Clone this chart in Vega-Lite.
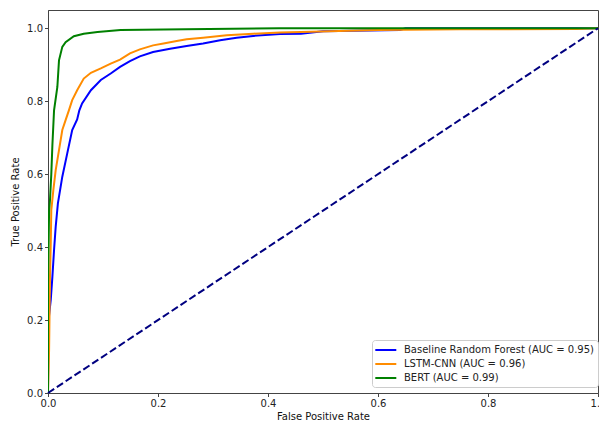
{
  "$schema": "https://vega.github.io/schema/vega-lite/v6.json",
  "width": 550,
  "height": 383,
  "autosize": "none",
  "padding": {"left": 48, "top": 10, "right": 1, "bottom": 29},
  "background": "white",
  "config": {
    "font": "DejaVu Sans",
    "view": {"stroke": "#444", "strokeWidth": 1},
    "axis": {
      "grid": false,
      "domainColor": "#444",
      "tickColor": "#444",
      "tickSize": 3.5,
      "labelFontSize": 10,
      "labelColor": "#222",
      "titleFontSize": 10,
      "titleFontWeight": "normal",
      "titleColor": "#111",
      "labelPadding": 2,
      "labelFlush": false
    }
  },
  "datasets": {
    "roc": [
      {"model": "Baseline Random Forest (AUC = 0.95)", "i": 0, "fpr": 0.0, "tpr": 0.0},
      {"model": "Baseline Random Forest (AUC = 0.95)", "i": 1, "fpr": 0.001, "tpr": 0.2},
      {"model": "Baseline Random Forest (AUC = 0.95)", "i": 2, "fpr": 0.005, "tpr": 0.255},
      {"model": "Baseline Random Forest (AUC = 0.95)", "i": 3, "fpr": 0.008, "tpr": 0.319},
      {"model": "Baseline Random Forest (AUC = 0.95)", "i": 4, "fpr": 0.011, "tpr": 0.392},
      {"model": "Baseline Random Forest (AUC = 0.95)", "i": 5, "fpr": 0.014, "tpr": 0.456},
      {"model": "Baseline Random Forest (AUC = 0.95)", "i": 6, "fpr": 0.018, "tpr": 0.52},
      {"model": "Baseline Random Forest (AUC = 0.95)", "i": 7, "fpr": 0.026, "tpr": 0.593},
      {"model": "Baseline Random Forest (AUC = 0.95)", "i": 8, "fpr": 0.035, "tpr": 0.657},
      {"model": "Baseline Random Forest (AUC = 0.95)", "i": 9, "fpr": 0.044, "tpr": 0.721},
      {"model": "Baseline Random Forest (AUC = 0.95)", "i": 10, "fpr": 0.053, "tpr": 0.75},
      {"model": "Baseline Random Forest (AUC = 0.95)", "i": 11, "fpr": 0.057, "tpr": 0.775},
      {"model": "Baseline Random Forest (AUC = 0.95)", "i": 12, "fpr": 0.062, "tpr": 0.794},
      {"model": "Baseline Random Forest (AUC = 0.95)", "i": 13, "fpr": 0.078, "tpr": 0.83},
      {"model": "Baseline Random Forest (AUC = 0.95)", "i": 14, "fpr": 0.096, "tpr": 0.858},
      {"model": "Baseline Random Forest (AUC = 0.95)", "i": 15, "fpr": 0.114, "tpr": 0.876},
      {"model": "Baseline Random Forest (AUC = 0.95)", "i": 16, "fpr": 0.131, "tpr": 0.894},
      {"model": "Baseline Random Forest (AUC = 0.95)", "i": 17, "fpr": 0.149, "tpr": 0.91},
      {"model": "Baseline Random Forest (AUC = 0.95)", "i": 18, "fpr": 0.167, "tpr": 0.923},
      {"model": "Baseline Random Forest (AUC = 0.95)", "i": 19, "fpr": 0.191, "tpr": 0.935},
      {"model": "Baseline Random Forest (AUC = 0.95)", "i": 20, "fpr": 0.222, "tpr": 0.944},
      {"model": "Baseline Random Forest (AUC = 0.95)", "i": 21, "fpr": 0.252, "tpr": 0.951},
      {"model": "Baseline Random Forest (AUC = 0.95)", "i": 22, "fpr": 0.282, "tpr": 0.958},
      {"model": "Baseline Random Forest (AUC = 0.95)", "i": 23, "fpr": 0.313, "tpr": 0.967},
      {"model": "Baseline Random Forest (AUC = 0.95)", "i": 24, "fpr": 0.343, "tpr": 0.974},
      {"model": "Baseline Random Forest (AUC = 0.95)", "i": 25, "fpr": 0.373, "tpr": 0.979},
      {"model": "Baseline Random Forest (AUC = 0.95)", "i": 26, "fpr": 0.422, "tpr": 0.984},
      {"model": "Baseline Random Forest (AUC = 0.95)", "i": 27, "fpr": 0.46, "tpr": 0.985},
      {"model": "Baseline Random Forest (AUC = 0.95)", "i": 28, "fpr": 0.5, "tpr": 0.992},
      {"model": "Baseline Random Forest (AUC = 0.95)", "i": 29, "fpr": 0.64, "tpr": 0.995},
      {"model": "Baseline Random Forest (AUC = 0.95)", "i": 30, "fpr": 0.65, "tpr": 1.0},
      {"model": "Baseline Random Forest (AUC = 0.95)", "i": 31, "fpr": 1.0, "tpr": 1.0},
      {"model": "LSTM-CNN (AUC = 0.96)", "i": 0, "fpr": 0.0, "tpr": 0.0},
      {"model": "LSTM-CNN (AUC = 0.96)", "i": 1, "fpr": 0.002, "tpr": 0.12},
      {"model": "LSTM-CNN (AUC = 0.96)", "i": 2, "fpr": 0.0036, "tpr": 0.319},
      {"model": "LSTM-CNN (AUC = 0.96)", "i": 3, "fpr": 0.005, "tpr": 0.41},
      {"model": "LSTM-CNN (AUC = 0.96)", "i": 4, "fpr": 0.006, "tpr": 0.501},
      {"model": "LSTM-CNN (AUC = 0.96)", "i": 5, "fpr": 0.0097, "tpr": 0.556},
      {"model": "LSTM-CNN (AUC = 0.96)", "i": 6, "fpr": 0.014, "tpr": 0.611},
      {"model": "LSTM-CNN (AUC = 0.96)", "i": 7, "fpr": 0.02, "tpr": 0.666},
      {"model": "LSTM-CNN (AUC = 0.96)", "i": 8, "fpr": 0.026, "tpr": 0.721},
      {"model": "LSTM-CNN (AUC = 0.96)", "i": 9, "fpr": 0.032, "tpr": 0.748},
      {"model": "LSTM-CNN (AUC = 0.96)", "i": 10, "fpr": 0.038, "tpr": 0.775},
      {"model": "LSTM-CNN (AUC = 0.96)", "i": 11, "fpr": 0.044, "tpr": 0.803},
      {"model": "LSTM-CNN (AUC = 0.96)", "i": 12, "fpr": 0.053, "tpr": 0.83},
      {"model": "LSTM-CNN (AUC = 0.96)", "i": 13, "fpr": 0.065, "tpr": 0.862},
      {"model": "LSTM-CNN (AUC = 0.96)", "i": 14, "fpr": 0.078, "tpr": 0.878},
      {"model": "LSTM-CNN (AUC = 0.96)", "i": 15, "fpr": 0.096, "tpr": 0.89},
      {"model": "LSTM-CNN (AUC = 0.96)", "i": 16, "fpr": 0.114, "tpr": 0.903},
      {"model": "LSTM-CNN (AUC = 0.96)", "i": 17, "fpr": 0.131, "tpr": 0.914},
      {"model": "LSTM-CNN (AUC = 0.96)", "i": 18, "fpr": 0.149, "tpr": 0.931},
      {"model": "LSTM-CNN (AUC = 0.96)", "i": 19, "fpr": 0.167, "tpr": 0.942},
      {"model": "LSTM-CNN (AUC = 0.96)", "i": 20, "fpr": 0.191, "tpr": 0.953},
      {"model": "LSTM-CNN (AUC = 0.96)", "i": 21, "fpr": 0.21, "tpr": 0.958},
      {"model": "LSTM-CNN (AUC = 0.96)", "i": 22, "fpr": 0.234, "tpr": 0.965},
      {"model": "LSTM-CNN (AUC = 0.96)", "i": 23, "fpr": 0.252, "tpr": 0.97},
      {"model": "LSTM-CNN (AUC = 0.96)", "i": 24, "fpr": 0.282, "tpr": 0.974},
      {"model": "LSTM-CNN (AUC = 0.96)", "i": 25, "fpr": 0.325, "tpr": 0.981},
      {"model": "LSTM-CNN (AUC = 0.96)", "i": 26, "fpr": 0.373, "tpr": 0.985},
      {"model": "LSTM-CNN (AUC = 0.96)", "i": 27, "fpr": 0.422, "tpr": 0.988},
      {"model": "LSTM-CNN (AUC = 0.96)", "i": 28, "fpr": 0.46, "tpr": 0.99},
      {"model": "LSTM-CNN (AUC = 0.96)", "i": 29, "fpr": 0.6, "tpr": 0.995},
      {"model": "LSTM-CNN (AUC = 0.96)", "i": 30, "fpr": 0.75, "tpr": 0.997},
      {"model": "LSTM-CNN (AUC = 0.96)", "i": 31, "fpr": 0.96, "tpr": 0.998},
      {"model": "LSTM-CNN (AUC = 0.96)", "i": 32, "fpr": 1.0, "tpr": 1.0},
      {"model": "BERT (AUC = 0.99)", "i": 0, "fpr": 0.0, "tpr": 0.0},
      {"model": "BERT (AUC = 0.99)", "i": 1, "fpr": 0.0, "tpr": 0.3},
      {"model": "BERT (AUC = 0.99)", "i": 2, "fpr": 0.002, "tpr": 0.5},
      {"model": "BERT (AUC = 0.99)", "i": 3, "fpr": 0.0036, "tpr": 0.529},
      {"model": "BERT (AUC = 0.99)", "i": 4, "fpr": 0.006, "tpr": 0.6},
      {"model": "BERT (AUC = 0.99)", "i": 5, "fpr": 0.008, "tpr": 0.68},
      {"model": "BERT (AUC = 0.99)", "i": 6, "fpr": 0.011, "tpr": 0.775},
      {"model": "BERT (AUC = 0.99)", "i": 7, "fpr": 0.017, "tpr": 0.839},
      {"model": "BERT (AUC = 0.99)", "i": 8, "fpr": 0.02, "tpr": 0.912},
      {"model": "BERT (AUC = 0.99)", "i": 9, "fpr": 0.026, "tpr": 0.949},
      {"model": "BERT (AUC = 0.99)", "i": 10, "fpr": 0.032, "tpr": 0.962},
      {"model": "BERT (AUC = 0.99)", "i": 11, "fpr": 0.047, "tpr": 0.978},
      {"model": "BERT (AUC = 0.99)", "i": 12, "fpr": 0.065, "tpr": 0.985},
      {"model": "BERT (AUC = 0.99)", "i": 13, "fpr": 0.09, "tpr": 0.99},
      {"model": "BERT (AUC = 0.99)", "i": 14, "fpr": 0.132, "tpr": 0.995},
      {"model": "BERT (AUC = 0.99)", "i": 15, "fpr": 0.25, "tpr": 0.997},
      {"model": "BERT (AUC = 0.99)", "i": 16, "fpr": 0.42, "tpr": 1.0},
      {"model": "BERT (AUC = 0.99)", "i": 17, "fpr": 1.0, "tpr": 1.0}
    ],
    "diag": [
      {"fpr": 0, "tpr": 0},
      {"fpr": 1, "tpr": 1}
    ]
  },
  "layer": [
    {
      "data": {"name": "roc"},
      "mark": {"type": "line", "strokeWidth": 2, "clip": true},
      "encoding": {
        "x": {
          "field": "fpr", "type": "quantitative",
          "scale": {"domain": [0, 1], "nice": false, "zero": false},
          "axis": {"title": "False Positive Rate", "values": [0, 0.2, 0.4, 0.6, 0.8, 1.0], "format": ".1f", "titlePadding": 3}
        },
        "y": {
          "field": "tpr", "type": "quantitative",
          "scale": {"domain": [0, 1.05], "nice": false, "zero": false},
          "axis": {"title": "True Positive Rate", "values": [0, 0.2, 0.4, 0.6, 0.8, 1.0], "format": ".1f", "titlePadding": 6}
        },
        "color": {
          "field": "model", "type": "nominal",
          "scale": {
            "domain": ["Baseline Random Forest (AUC = 0.95)", "LSTM-CNN (AUC = 0.96)", "BERT (AUC = 0.99)"],
            "range": ["#0000ff", "#ff8c00", "#008000"]
          },
          "legend": {
            "title": null,
            "orient": "none",
            "legendX": 324,
            "legendY": 330,
            "padding": 4,
            "fillColor": "white",
            "strokeColor": "#cccccc",
            "cornerRadius": 3,
            "symbolType": "M-1.34,0H2.86",
            "symbolSize": 100,
            "symbolStrokeWidth": 2,
            "labelFontSize": 10,
            "labelColor": "#222",
            "labelOffset": 16,
            "labelLimit": 0,
            "rowPadding": 3
          }
        },
        "order": {"field": "i", "type": "quantitative"}
      }
    },
    {
      "data": {"name": "diag"},
      "mark": {"type": "line", "color": "#000080", "strokeWidth": 2, "strokeDash": [7.4, 3.2]},
      "encoding": {
        "x": {"field": "fpr", "type": "quantitative"},
        "y": {"field": "tpr", "type": "quantitative"}
      }
    }
  ]
}
